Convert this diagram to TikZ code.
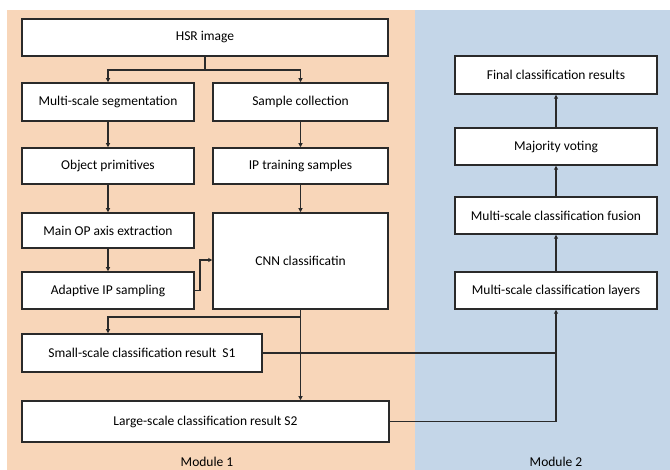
\documentclass[tikz,border=0pt]{standalone}
\usepackage{fontspec}
\setmainfont{Carlito}
\usetikzlibrary{arrows.meta}
\definecolor{peach}{HTML}{F8D6B9}
\definecolor{paleblue}{HTML}{C4D6E8}
\definecolor{edge}{HTML}{2A2A2A}
\begin{document}
\begin{tikzpicture}[x=1pt,y=-1pt,
  box/.style={draw=edge,line width=1.5pt,fill=white,inner sep=0pt,
    font=\fontsize{13.5}{15}\selectfont,text=black},
  link/.style={draw=edge,line width=1.1pt,-{Triangle[length=4pt,width=4pt]}},
  plain/.style={draw=edge,line width=1.1pt},
  lbl/.style={font=\fontsize{13.5}{15}\selectfont,text=black}]
\useasboundingbox (0,0) rectangle (670,470);
\fill[white] (0,0) rectangle (670,470);
\fill[peach] (7,10) rectangle (415,470);
\fill[paleblue] (415,10) rectangle (670,470);

% module 1 boxes
\node[box,minimum width=366pt,minimum height=37pt] (hsr) at (205,37.5) {HSR image};
\node[box,minimum width=172pt,minimum height=38pt] (seg) at (108,102) {Multi-scale segmentation};
\node[box,minimum width=175pt,minimum height=38pt] (samp) at (300.5,102) {Sample collection};
\node[box,minimum width=172pt,minimum height=36pt] (obj) at (108,166) {Object primitives};
\node[box,minimum width=175pt,minimum height=36pt] (ipt) at (300.5,166) {IP training samples};
\node[box,minimum width=172pt,minimum height=35pt] (axis) at (108,230.5) {Main OP axis extraction};
\node[box,minimum width=172pt,minimum height=37pt] (adap) at (108,290.5) {Adaptive IP sampling};
\node[box,minimum width=175pt,minimum height=96pt] (cnn) at (300.5,261) {CNN classificatin};
\node[box,minimum width=240pt,minimum height=38pt] (s1) at (142,353) {Small-scale classification result\ \ S1};
\node[box,minimum width=367pt,minimum height=41pt] (s2) at (205.5,421.5) {Large-scale classification result S2};

% module 2 boxes
\node[box,minimum width=202pt,minimum height=38pt] (final) at (556,75) {Final classification results};
\node[box,minimum width=202pt,minimum height=37pt] (vote) at (556,146.5) {Majority voting};
\node[box,minimum width=202pt,minimum height=37pt] (fuse) at (556,215.5) {Multi-scale classification fusion};
\node[box,minimum width=202pt,minimum height=37pt] (layers) at (556,290.5) {Multi-scale classification layers};

\node[lbl] (m1) at (207,462) {Module 1};
\node[lbl] (m2) at (556,462) {Module 2};

% connectors
\coordinate (split) at (205,70);
\draw[plain] (hsr.south) -- (split);
\draw[link] (split) -| (seg.north);
\draw[link] (split) -| (samp.north);
\draw[link] (seg) -- (obj);
\draw[link] (obj) -- (axis);
\draw[link] (axis) -- (adap);
\draw[link] (samp) -- (ipt);
\draw[link] (ipt) -- (cnn);
\coordinate (up1) at (200,290.5);
\coordinate (up2) at (200,260);
\draw[link] (adap.east) -- (up1) -- (up2) -- (cnn.west |- up2);
\coordinate (cnnb) at (300.5,317);
\draw[link] (cnn.south) -- (s2.north -| cnn.south);
\draw[link] (cnnb) -| (s1.north -| seg.south);
\coordinate (j1) at (556,353);
\draw[plain] (s1.east) -- (j1);
\fill[edge] (300.5,353) circle (1.6pt);
\draw[link] (j1) -- (layers.south);
\draw[plain] (s2.east) -| (j1);
\draw[link] (layers) -- (fuse);
\draw[link] (fuse) -- (vote);
\draw[link] (vote) -- (final);
\end{tikzpicture}
\end{document}
